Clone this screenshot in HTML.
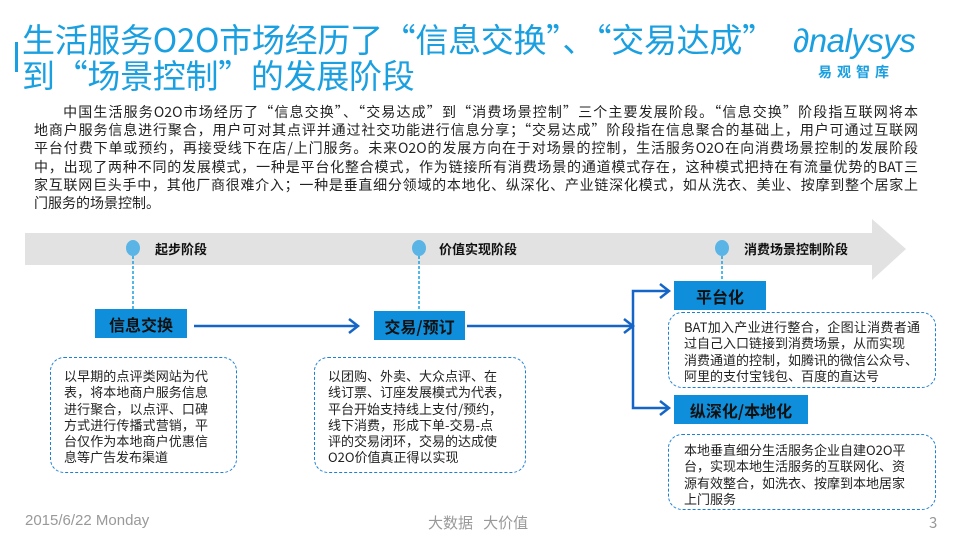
<!DOCTYPE html>
<html><head><meta charset="utf-8"><style>
*{margin:0;padding:0;box-sizing:border-box}
body{width:960px;height:540px;background:#fff;position:relative;overflow:hidden;font-family:"Noto Sans CJK SC","Liberation Sans",sans-serif;color:#222}
.abs{position:absolute}
.title{left:22px;color:#1a9fe0;font-size:33px;line-height:36px;white-space:nowrap;letter-spacing:-0.3px}
.para{left:34px;top:103px;width:884px;font-size:14px;line-height:18.2px;color:#222}
.para div{text-align:justify;text-align-last:justify;white-space:nowrap}
.para div.l{text-align-last:left}
.blue{background:#0f8fdb;color:#111;font-weight:bold;font-size:16px;display:flex;align-items:center;justify-content:center}
.dash{border:1.5px dashed #1a7fd6;border-radius:14px}
.txt{position:absolute;font-size:13px;line-height:16.3px;color:#222}
.txt div{text-align:justify;text-align-last:justify;white-space:nowrap}
.txt div.l{text-align-last:left}
.stage{font-size:13px;font-weight:bold;color:#111}
.dot{width:14px;height:16px;border-radius:50%;background:#5ab4e5}
.foot{color:#999;font-size:15px;top:512px}
</style></head><body>
<div class="abs" style="left:15px;top:42px;width:3px;height:30px;background:#1a9fe0"></div>
<div class="abs title" style="top:20px">生活服务O2O市场经历了“信息交换”、“交易达成”</div>
<div class="abs title" style="top:56px">到“场景控制”的发展阶段</div>
<div class="abs" style="left:793px;top:22px;color:#1a9fe0;font-family:'Liberation Sans',sans-serif;font-size:33px;font-style:italic;letter-spacing:-0.5px">∂nalysys</div>
<div class="abs" style="left:818px;top:62px;color:#1a9fe0;font-size:14px;font-weight:bold;letter-spacing:5px">易观智库</div>
<div class="abs para">
<div>&emsp;&emsp;中国生活服务O2O市场经历了“信息交换”、“交易达成”到“消费场景控制”三个主要发展阶段。“信息交换”阶段指互联网将本</div>
<div>地商户服务信息进行聚合，用户可对其点评并通过社交功能进行信息分享；“交易达成”阶段指在信息聚合的基础上，用户可通过互联网</div>
<div>平台付费下单或预约，再接受线下在店/上门服务。未来O2O的发展方向在于对场景的控制，生活服务O2O在向消费场景控制的发展阶段</div>
<div>中，出现了两种不同的发展模式，一种是平台化整合模式，作为链接所有消费场景的通道模式存在，这种模式把持在有流量优势的BAT三</div>
<div>家互联网巨头手中，其他厂商很难介入；一种是垂直细分领域的本地化、纵深化、产业链深化模式，如从洗衣、美业、按摩到整个居家上</div>
<div class="l">门服务的场景控制。</div>
</div>
<svg class="abs" style="left:0;top:0" width="960" height="540">
<polygon points="25,233 872,233 872,219 906,249 872,280 872,265 25,265" fill="#e2e2e2"/>
<g stroke="#1a9fe0" stroke-width="1.5" stroke-dasharray="3,2" fill="none">
<line x1="133" y1="256" x2="133" y2="309"/>
<line x1="419" y1="256" x2="419" y2="311"/>
<line x1="722" y1="256" x2="722" y2="281"/>
</g>
<g stroke="#1565c8" stroke-width="2.5" fill="none">
<line x1="194" y1="326" x2="357" y2="326"/>
<polyline points="349,319 358,326 349,333"/>
<line x1="467" y1="326" x2="632" y2="326"/>
<polyline points="624,319 633,326 624,333"/>
<polyline points="668,291 633,291 633,408 668,408"/>
<polyline points="660,284 669,291 660,298"/>
<polyline points="660,401 669,408 660,415"/>
</g>
</svg>
<div class="abs dot" style="left:126px;top:240px"></div>
<div class="abs dot" style="left:412px;top:240px"></div>
<div class="abs dot" style="left:715px;top:240px"></div>
<div class="abs stage" style="left:155px;top:239px">起步阶段</div>
<div class="abs stage" style="left:439px;top:239px">价值实现阶段</div>
<div class="abs stage" style="left:744px;top:239px">消费场景控制阶段</div>
<div class="abs blue" style="left:95px;top:309px;width:92px;height:29px">信息交换</div>
<div class="abs blue" style="left:374px;top:311px;width:91px;height:29px">交易/预订</div>
<div class="abs blue" style="left:674px;top:281px;width:92px;height:29px">平台化</div>
<div class="abs blue" style="left:674px;top:395px;width:134px;height:29px">纵深化/本地化</div>
<div class="abs dash" style="left:50px;top:357px;width:187px;height:116px"></div>
<div class="abs dash" style="left:314px;top:357px;width:212px;height:116px"></div>
<div class="abs dash" style="left:668px;top:312px;width:268px;height:76px"></div>
<div class="abs dash" style="left:668px;top:434px;width:268px;height:76px"></div>
<div class="txt" style="left:64px;top:368px;width:144px">
<div>以早期的点评类网站为代</div><div>表，将本地商户服务信息</div><div>进行聚合，以点评、口碑</div><div>方式进行传播式营销，平</div><div>台仅作为本地商户优惠信</div><div class="l">息等广告发布渠道</div></div>
<div class="txt" style="left:328px;top:368px;width:176px">
<div class="l">以团购、外卖、大众点评、在</div><div>线订票、订座发展模式为代表，</div><div class="l">平台开始支持线上支付/预约，</div><div class="l">线下消费，形成下单-交易-点</div><div class="l">评的交易闭环，交易的达成使</div><div class="l">O2O价值真正得以实现</div></div>
<div class="txt" style="left:684px;top:319px;width:236px">
<div>BAT加入产业进行整合，企图让消费者通</div><div class="l">过自己入口链接到消费场景，从而实现</div><div class="l">消费通道的控制，如腾讯的微信公众号、</div><div class="l">阿里的支付宝钱包、百度的直达号</div></div>
<div class="txt" style="left:684px;top:442px;width:236px">
<div class="l">本地垂直细分生活服务企业自建O2O平</div><div class="l">台，实现本地生活服务的互联网化、资</div><div class="l">源有效整合，如洗衣、按摩到本地居家</div><div class="l">上门服务</div></div>
<div class="abs foot" style="left:25px;font-family:'Liberation Sans',sans-serif">2015/6/22 Monday</div>
<div class="abs foot" style="left:428px">大数据&nbsp;&nbsp;&nbsp;大价值</div>
<div class="abs foot" style="left:929px">3</div>
</body></html>
